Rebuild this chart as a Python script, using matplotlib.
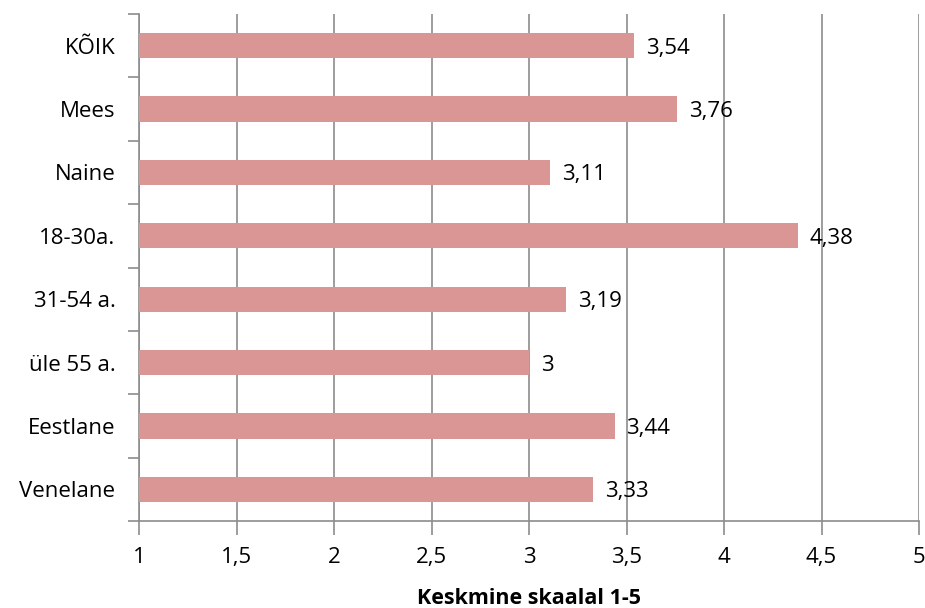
import numpy as np
import matplotlib
matplotlib.use('Agg')
import matplotlib.pyplot as plt
from matplotlib.ticker import FixedLocator, FuncFormatter

categories = ['KÕIK', 'Mees', 'Naine', '18-30a.', '31-54 a.', 'üle 55 a.', 'Eestlane', 'Venelane']
values = [3.54, 3.76, 3.11, 4.38, 3.19, 3.00, 3.44, 3.33]
x_ticks = [1, 1.5, 2, 2.5, 3, 3.5, 4, 4.5, 5]

plt.rcParams['font.family'] = ['Open Sans', 'DejaVu Sans']

BAR_COLOR = '#D99694'
GRID_COLOR = '#8C8C8C'
FS = 16


def fmt(v):
    s = f'{v:.2f}'.rstrip('0').rstrip('.')
    return s.replace('.', ',')


fig = plt.figure(figsize=(9.25, 6.08), dpi=100)
ax = fig.add_axes([139 / 925, 1 - 521 / 608, 780 / 925, 507 / 608])

ypos = np.arange(len(categories))
ax.barh(ypos, [v - 1 for v in values], left=1, height=0.4, color=BAR_COLOR, zorder=3)

for y, v in zip(ypos, values):
    ax.text(v + 0.06, y + 0.04, fmt(v), va='center', ha='left', fontsize=FS, color='black')

ax.set_xlim(1, 5)
ax.set_ylim(len(categories) - 0.5, -0.5)
ax.xaxis.set_major_locator(FixedLocator(x_ticks))
ax.xaxis.set_major_formatter(FuncFormatter(lambda v, p: fmt(v)))
ax.set_yticks(ypos)
ax.set_yticklabels(categories)
ax.yaxis.set_minor_locator(FixedLocator(np.arange(-0.5, len(categories), 1.0)))

ax.tick_params(axis='y', which='major', length=0, pad=17, labelsize=FS)
ax.tick_params(axis='y', which='minor', length=8, width=1.2, color=GRID_COLOR)
ax.tick_params(axis='x', which='major', length=10, width=1.2, color=GRID_COLOR,
               pad=9, labelsize=FS)

ax.grid(axis='x', color=GRID_COLOR, linewidth=1.2, zorder=0)
for side in ['top', 'right']:
    ax.spines[side].set_visible(False)
for side in ['left', 'bottom']:
    ax.spines[side].set_color(GRID_COLOR)
    ax.spines[side].set_linewidth(1.2)

ax.set_xlabel('Keskmine skaalal 1-5', fontsize=FS - 0.5, fontweight='bold', labelpad=14)

fig.savefig('out.png', dpi=100)
